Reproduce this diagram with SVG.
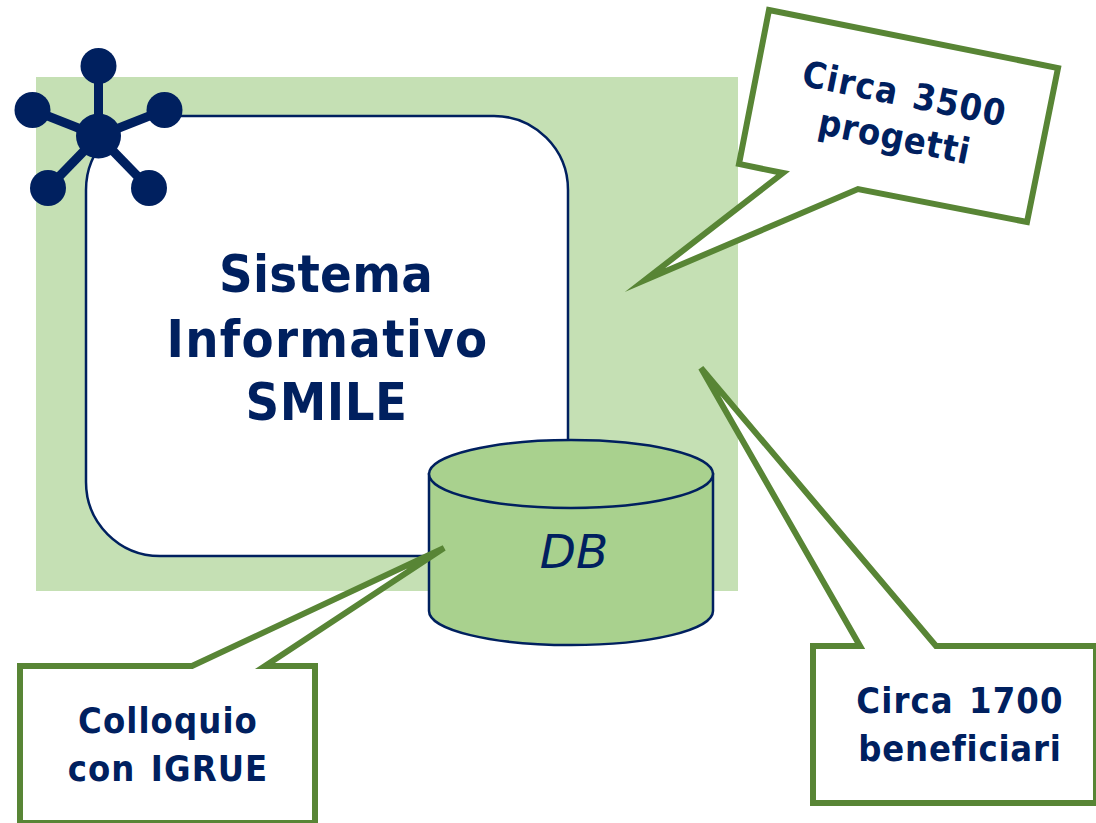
<svg xmlns="http://www.w3.org/2000/svg" width="1096" height="823" viewBox="0 0 1096 823">
<style>
text{font-family:"DejaVu Sans","Open Sans",sans-serif;fill:#00205f;text-anchor:middle}
.t{font-size:52px;font-weight:bold;font-stretch:condensed;letter-spacing:1.300px}
.c{font-size:36px;font-weight:bold;font-stretch:condensed;letter-spacing:1.100px;word-spacing:3px}
.call{fill:#fff;stroke:#588535;stroke-width:6;stroke-miterlimit:4}
.ln{stroke:#00205f;stroke-width:2.500}
.nd{fill:#00205f}
.sp{stroke:#00205f;stroke-width:9}
</style>
<rect id="background" x="36" y="77" width="702" height="514" fill="#c5e0b4"/>
<g id="sistema">
<rect x="86" y="116" width="482" height="440" rx="74" ry="74" fill="#fff" class="ln"/>
<text class="t"><tspan x="326" y="292" style="letter-spacing:.3px">Sistema</tspan><tspan x="327.500" y="357">Informativo</tspan><tspan x="326.500" y="420" style="letter-spacing:.5px">SMILE</tspan></text>
</g>
<g id="db">
<path d="M429 474V611C429 630 492 645 571 645S713 630 713 611V474Z" fill="#a9d18e" class="ln"/>
<ellipse cx="571" cy="474" rx="142" ry="34" fill="#a9d18e" class="ln"/>
<text x="574" y="568" font-size="47" font-style="italic">DB</text>
</g>
<g id="network-icon">
<g class="sp"><line x1="98.500" y1="136" x2="98.500" y2="66"/><line x1="98.500" y1="136" x2="32.500" y2="110"/><line x1="98.500" y1="136" x2="164.500" y2="110"/><line x1="98.500" y1="136" x2="48" y2="188"/><line x1="98.500" y1="136" x2="149" y2="188"/></g>
<g class="nd"><circle cx="98.500" cy="136" r="22.500"/><circle cx="98.500" cy="66" r="18"/><circle cx="32.500" cy="110" r="18"/><circle cx="164.500" cy="110" r="18"/><circle cx="48" cy="188" r="18"/><circle cx="149" cy="188" r="18"/></g>
</g>
<g id="connectors"></g>
<g id="callout-progetti">
<path class="call" style="stroke-miterlimit:20" d="M769 10L1058 68L1027 222L858 189L645 280L783 173L739 164Z"/>
<text class="c" transform="translate(902 106) rotate(11.500)">Circa 3500</text>
<text class="c" transform="translate(892 149) rotate(11.500)" style="letter-spacing:.7px">progetti</text>
</g>
<g id="callout-beneficiari">
<path class="call" d="M701 368L936 646H1096V803H813V646H860Z"/>
<text class="c" x="960" y="713">Circa 1700</text>
<text class="c" x="960" y="761" style="letter-spacing:.8px">beneficiari</text>
</g>
<g id="callout-igrue">
<path class="call" d="M444 548L192 666H20V823H315V666H265Z"/>
<text class="c" x="168" y="733">Colloquio</text>
<text class="c" x="168" y="781">con IGRUE</text>
</g>
</svg>
